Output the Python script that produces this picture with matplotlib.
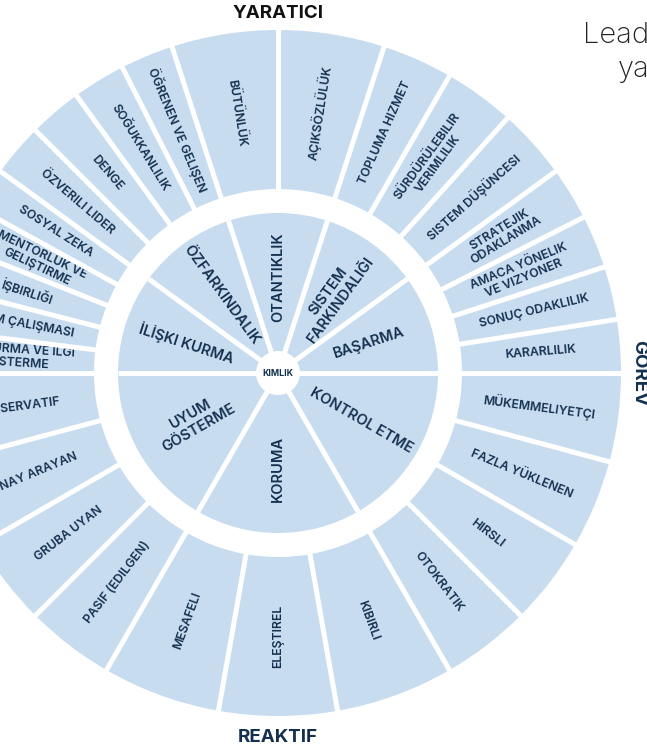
import numpy as np
import matplotlib.pyplot as plt
from matplotlib.patches import Wedge, Circle

# Inner dimensions, clockwise from the left horizontal
dimensions = ["İLİŞKI KURMA", "ÖZFARKINDALIK", "OTANTIKLIK", "SISTEM\nFARKINDALIĞI",
              "BAŞARMA", "KONTROL ETME", "KORUMA", "UYUM\nGÖSTERME"]
dim_spans = [36, 36, 36, 36, 36, 60, 60, 60]

# Outer competencies per dimension (same clockwise order)
competencies = [
    ["BAĞ KURMA VE İLGI\nGÖSTERME", "TAKIM ÇALIŞMASI", "İŞBIRLIĞI",
     "MENTÖRLÜK VE\nGELIŞTIRME", "SOSYAL ZEKA"],
    ["ÖZVERILI LIDER", "DENGE", "SOĞUKKANLILIK", "ÖĞRENEN VE GELIŞEN"],
    ["BÜTÜNLÜK", "AÇIKSÖZLÜLÜK"],
    ["TOPLUMA HIZMET", "SÜRDÜRÜLEBILIR\nVERIMLILIK", "SISTEM DÜŞÜNCESI"],
    ["STRATEJIK\nODAKLANMA", "AMACA YÖNELIK\nVE VIZYONER", "SONUÇ ODAKLILIK", "KARARLILIK"],
    ["MÜKEMMELIYETÇI", "FAZLA YÜKLENEN", "HIRSLI", "OTOKRATIK"],
    ["KIBIRLI", "ELEŞTIREL", "MESAFELI"],
    ["PASIF (EDILGEN)", "GRUBA UYAN", "ONAY ARAYAN", "KONSERVATIF"],
]

FILL = "#c8dcf0"
NAVY = "#13304f"
FONT = ["Inter", "DejaVu Sans"]

R_OUT, R_RING, R_IN, R_HUB = 343, 184, 160, 22
GAP = 3.6  # white divider width in points


def upright(deg):
    d = (deg + 180) % 360 - 180
    if d > 90:
        d -= 180
    elif d <= -90:
        d += 180
    return d


fig = plt.figure(figsize=(6.47, 7.51), dpi=100)
ax = fig.add_axes([0, 0, 1, 1])
ax.set_xlim(-278, 369)
ax.set_ylim(-378, 373)
ax.set_aspect("equal")
ax.axis("off")

start = 180.0
for dim, span, comps in zip(dimensions, dim_spans, competencies):
    end = start - span
    # inner sector
    ax.add_patch(Wedge((0, 0), R_IN, end, start, facecolor=FILL, edgecolor="none"))
    mid = (start + end) / 2
    t = np.radians(mid)
    r_lab = 96
    ax.text(r_lab * np.cos(t), r_lab * np.sin(t), dim, rotation=upright(mid),
            ha="center", va="center", ma="center", fontsize=10.5, fontweight="semibold",
            color=NAVY, family=FONT, rotation_mode="anchor", linespacing=1.1)
    # spoke of inner disc
    ts = np.radians(start)
    ax.plot([0, R_IN * np.cos(ts)], [0, R_IN * np.sin(ts)], color="white", lw=GAP,
            solid_capstyle="butt", zorder=3)

    # outer ring items
    step = span / len(comps)
    for i, c in enumerate(comps):
        a1 = start - i * step
        a2 = a1 - step
        ax.add_patch(Wedge((0, 0), R_OUT, a2, a1, width=R_OUT - R_RING,
                           facecolor=FILL, edgecolor="none"))
        m = (a1 + a2) / 2
        tm = np.radians(m)
        rr = (R_OUT + R_RING) / 2
        ax.text(rr * np.cos(tm), rr * np.sin(tm), c, rotation=upright(m),
                ha="center", va="center", ma="center", fontsize=8.8, fontweight="semibold",
                color=NAVY, family=FONT, rotation_mode="anchor", linespacing=1.1)
        ta = np.radians(a1)
        ax.plot([R_RING * np.cos(ta) - np.cos(ta) * 2, (R_OUT + 2) * np.cos(ta)],
                [R_RING * np.sin(ta) - np.sin(ta) * 2, (R_OUT + 2) * np.sin(ta)],
                color="white", lw=GAP, solid_capstyle="butt", zorder=3)
    start = end

# hub
ax.add_patch(Circle((0, 0), R_HUB, facecolor="white", edgecolor="none", zorder=4))
ax.text(0, 0, "KIMLIK", ha="center", va="center", fontsize=6.3, fontweight="bold",
        color=NAVY, family=FONT, zorder=5)

# outer labels
ax.text(0, 359, "YARATICI", ha="center", va="center", fontsize=13.5, fontweight="bold",
        color="#111111", family=FONT)
ax.text(0, -364, "REAKTIF", ha="center", va="center", fontsize=13.5, fontweight="bold",
        color=NAVY, family=FONT)
ax.text(361, 0, "GOREV", ha="center", va="center", fontsize=13.5, fontweight="bold",
        color=NAVY, family=FONT, rotation=-90)

ax.text(305, 330, "Leadership Circle", ha="left", va="baseline", fontsize=21,
        fontweight="light", color="#222222", family=FONT)
ax.text(340, 296, "yaklaşımı", ha="left", va="baseline", fontsize=21,
        fontweight="light", color="#222222", family=FONT)

fig.savefig("out.png", dpi=100)
